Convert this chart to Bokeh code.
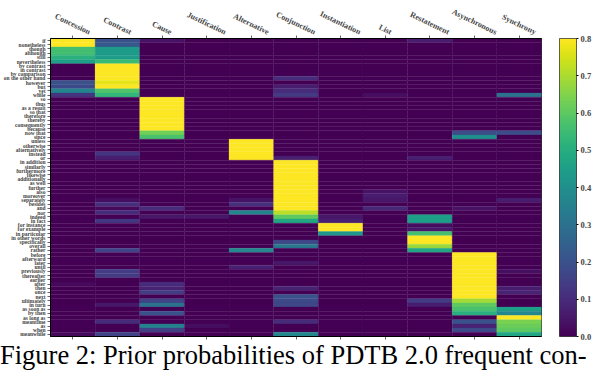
from bokeh.plotting import figure
from bokeh.models import (LinearColorMapper, ColorBar, FixedTicker, LinearAxis, Div,
                          ColumnDataSource, Range1d, PrintfTickFormatter)
from bokeh.layouts import column
from bokeh.palettes import Viridis256
from bokeh.transform import transform
from bokeh.embed import file_html
from bokeh.resources import INLINE
import math

relations = ["Concession", "Contrast", "Cause", "Justification", "Alternative", "Conjunction",
             "Instantiation", "List", "Restatement", "Asynchronous", "Synchrony"]

connectives = [
    "if", "nonetheless", "though", "although", "still", "nevertheless", "by contrast", "in contrast",
    "by comparison", "on the other hand", "however", "but", "yet", "while", "so", "thus", "as a result",
    "so that", "therefore", "thereby", "consequently", "because", "now that", "since", "unless",
    "otherwise", "alternatively", "instead", "or", "in addition", "similarly", "furthermore", "likewise",
    "additionally", "as well", "further", "also", "moreover", "separately", "besides", "and", "nor",
    "indeed", "in fact", "for instance", "for example", "in particular", "in other words", "specifically",
    "overall", "rather", "before", "afterward", "later", "until", "previously", "thereafter", "earlier",
    "after", "then", "once", "next", "ultimately", "in turn", "as soon as", "by then", "as long as",
    "meantime", "as", "when", "meanwhile",
]

concession = [
    0.85, 0.85, 0.56, 0.56, 0.51, 0.45, 0, 0, 0, 0,
    0.20, 0.18, 0.36, 0.12, 0, 0, 0, 0, 0, 0,
    0, 0, 0, 0, 0, 0, 0, 0, 0, 0,
    0, 0, 0, 0, 0, 0, 0, 0, 0, 0,
    0, 0, 0, 0, 0, 0, 0, 0, 0, 0,
    0, 0, 0, 0, 0, 0, 0, 0, 0.02, 0,
    0, 0, 0, 0, 0, 0, 0, 0, 0, 0,
    0.02,
]
contrast = [
    0.20, 0.22, 0.44, 0.44, 0.44, 0.54, 0.85, 0.85, 0.85, 0.85,
    0.77, 0.80, 0.58, 0.53, 0, 0, 0, 0, 0, 0,
    0, 0, 0, 0, 0, 0, 0, 0.12, 0.06, 0,
    0, 0, 0, 0, 0, 0, 0, 0, 0.03, 0.11,
    0.02, 0.10, 0, 0.13, 0, 0, 0, 0, 0, 0,
    0.16, 0, 0, 0, 0, 0.14, 0.14, 0, 0, 0,
    0, 0, 0, 0.05, 0, 0, 0, 0.10, 0, 0,
    0.16,
]
cause = [
    0.04, 0, 0, 0, 0, 0, 0, 0, 0, 0,
    0, 0, 0, 0, 0.85, 0.85, 0.85, 0.85, 0.85, 0.85,
    0.85, 0.85, 0.63, 0.57, 0, 0, 0, 0, 0, 0,
    0, 0, 0, 0, 0, 0, 0, 0, 0, 0,
    0.10, 0, 0.05, 0, 0, 0, 0, 0, 0, 0,
    0, 0, 0, 0, 0, 0, 0, 0, 0.10, 0.08,
    0.14, 0, 0.16, 0.30, 0, 0.20, 0, 0, 0.35, 0.15,
    0,
]
justification = [
    0, 0, 0, 0, 0, 0, 0, 0, 0, 0,
    0, 0, 0, 0, 0, 0, 0, 0, 0, 0,
    0, 0, 0, 0, 0, 0, 0, 0, 0, 0,
    0, 0, 0, 0, 0, 0, 0, 0, 0, 0,
    0, 0, 0.05, 0, 0, 0, 0, 0, 0, 0,
    0, 0, 0, 0, 0, 0, 0, 0, 0, 0,
    0, 0, 0, 0, 0, 0, 0, 0, 0.03, 0,
    0,
]
alternative = [
    0, 0, 0, 0, 0, 0, 0, 0, 0, 0,
    0, 0, 0, 0, 0, 0, 0, 0, 0, 0,
    0, 0, 0, 0, 0.85, 0.85, 0.85, 0.85, 0.85, 0,
    0, 0, 0, 0, 0, 0, 0, 0, 0.04, 0.11,
    0, 0.36, 0, 0, 0, 0, 0, 0, 0, 0,
    0.37, 0, 0, 0, 0.07, 0, 0, 0, 0, 0,
    0, 0, 0, 0, 0, 0, 0, 0, 0, 0,
    0,
]
conjunction = [
    0, 0, 0, 0, 0, 0, 0, 0, 0, 0.10,
    0, 0.06, 0.10, 0.14, 0, 0, 0, 0, 0, 0,
    0, 0, 0, 0, 0, 0, 0, 0, 0.07, 0.85,
    0.85, 0.85, 0.85, 0.85, 0.85, 0.85, 0.85, 0.85, 0.85, 0.85,
    0.85, 0.72, 0.60, 0.48, 0, 0, 0, 0, 0.17, 0.32,
    0, 0, 0, 0.05, 0, 0, 0, 0, 0, 0.08,
    0, 0.20, 0.18, 0.17, 0, 0, 0, 0.10, 0, 0,
    0.37,
]
instantiation = [
    0, 0, 0, 0, 0, 0, 0, 0, 0, 0,
    0, 0, 0, 0, 0, 0, 0, 0, 0, 0,
    0, 0, 0, 0, 0, 0, 0, 0, 0, 0,
    0, 0, 0, 0, 0, 0, 0, 0, 0, 0,
    0, 0, 0.05, 0.07, 0.85, 0.85, 0.42, 0, 0, 0,
    0, 0, 0, 0, 0, 0, 0, 0, 0, 0,
    0, 0, 0, 0, 0, 0, 0, 0, 0, 0,
    0,
]
list_rel = [
    0, 0, 0, 0, 0, 0, 0, 0, 0, 0,
    0, 0, 0, 0.03, 0, 0, 0, 0, 0, 0,
    0, 0, 0, 0, 0, 0, 0, 0, 0, 0,
    0, 0, 0, 0, 0, 0, 0.04, 0.06, 0.05, 0,
    0.09, 0, 0, 0, 0, 0, 0, 0, 0, 0,
    0, 0, 0, 0, 0, 0, 0, 0, 0, 0,
    0, 0, 0, 0, 0, 0, 0, 0, 0, 0,
    0,
]
restatement = [
    0.06, 0, 0, 0, 0, 0, 0, 0, 0, 0,
    0, 0, 0, 0, 0, 0, 0, 0, 0, 0,
    0, 0, 0, 0, 0, 0, 0, 0, 0.07, 0,
    0, 0, 0, 0, 0, 0, 0, 0, 0, 0,
    0, 0, 0.45, 0.45, 0.03, 0.05, 0.56, 0.85, 0.85, 0.68,
    0.48, 0, 0, 0, 0, 0, 0, 0, 0, 0,
    0, 0, 0.14, 0.06, 0, 0, 0, 0, 0, 0,
    0,
]
asynchronous = [
    0, 0, 0, 0, 0, 0, 0, 0, 0, 0,
    0, 0, 0, 0, 0, 0, 0, 0, 0, 0,
    0, 0, 0.19, 0.40, 0, 0, 0, 0, 0, 0,
    0, 0, 0, 0, 0, 0, 0, 0, 0, 0,
    0.04, 0, 0, 0, 0, 0, 0, 0, 0, 0,
    0, 0.85, 0.85, 0.85, 0.85, 0.85, 0.85, 0.85, 0.85, 0.85,
    0.85, 0.85, 0.69, 0.60, 0.57, 0.50, 0, 0.20, 0.08, 0.18,
    0,
]
synchrony = [
    0, 0, 0, 0, 0, 0, 0, 0, 0, 0,
    0, 0, 0, 0.30, 0, 0, 0, 0, 0, 0,
    0, 0, 0.19, 0, 0, 0, 0, 0, 0, 0,
    0, 0, 0, 0, 0, 0, 0, 0, 0.06, 0,
    0, 0, 0, 0, 0, 0, 0, 0, 0, 0,
    0, 0, 0, 0, 0, 0.03, 0, 0, 0, 0.06,
    0.08, 0, 0, 0, 0.45, 0.37, 0.85, 0.64, 0.62, 0.60,
    0.47,
]

columns = [concession, contrast, cause, justification, alternative, conjunction,
           instantiation, list_rel, restatement, asynchronous, synchrony]

colorbar_ticks = [0.0, 0.1, 0.2, 0.3, 0.4, 0.5, 0.6, 0.7, 0.8]
caption = "Figure 2: Prior probabilities of PDTB 2.0 frequent con-"

n_rows = len(connectives)
n_cols = len(relations)

SERIF = "Liberation Serif"
W, H = 594, 342
FRAME_W = 495
COL_FS = 8.0
ANGLE = 0.45

xs, ys, vals = [], [], []
for ci, colvals in enumerate(columns):
    for ri, v in enumerate(colvals):
        xs.append(ci + 0.5)
        ys.append(ri + 0.5)
        vals.append(v)
src = ColumnDataSource(dict(x=xs, y=ys, v=vals))

mapper = LinearColorMapper(palette=Viridis256, low=0.0, high=0.8)

p = figure(width=W, height=H, x_range=Range1d(0, n_cols), y_range=Range1d(n_rows, 0),
           output_backend="svg", toolbar_location=None,
           x_axis_location=None, y_axis_location=None,
           min_border_left=40, min_border_right=0, min_border_top=10, min_border_bottom=6)
p.grid.visible = False
p.outline_line_color = "black"
p.outline_line_width = 0.8
p.background_fill_color = "white"
p.margin = (0, 0, 0, 0)

p.rect(x="x", y="y", width=1, height=1, source=src,
       fill_color=transform("v", mapper), line_color=transform("v", mapper), line_width=0.3)

col_centers = [i + 0.5 for i in range(n_cols)]
row_centers = [i + 0.5 for i in range(n_rows)]

left = LinearAxis(ticker=FixedTicker(ticks=row_centers),
                  major_label_overrides={c: name for c, name in zip(row_centers, connectives)},
                  major_label_text_font=SERIF, major_label_text_font_style="bold",
                  major_label_text_font_size="5.5px", major_label_standoff=2,
                  major_tick_out=3, major_tick_in=0, minor_tick_out=0, minor_tick_in=0,
                  axis_line_color="black", major_tick_line_width=0.6)
p.add_layout(left, "left")

# tick marks only, above and below the heatmap
for side in ("above", "below"):
    ax = LinearAxis(ticker=FixedTicker(ticks=col_centers),
                    major_label_overrides={c: "" for c in col_centers},
                    major_label_text_font_size="0px", major_label_standoff=0,
                    major_tick_out=3, major_tick_in=0, minor_tick_out=0, minor_tick_in=0,
                    axis_line_color="black", major_tick_line_width=0.6)
    p.add_layout(ax, side)

# rotated column names, centred over each column (Times-Bold advance widths, per 1000 em)
TB = {"C": 722, "o": 500, "n": 556, "c": 444, "e": 444, "s": 389, "i": 278, "t": 333, "r": 444,
      "a": 500, "u": 556, "J": 500, "f": 333, "l": 278, "A": 722, "j": 333, "I": 389, "L": 667,
      "R": 722, "m": 833, "y": 500, "h": 556, "S": 556, "v": 500}
col_w_px = FRAME_W / n_cols
label_ticks = []
for i, name in enumerate(relations):
    length_px = sum(TB.get(ch, 500) for ch in name) / 1000.0 * COL_FS
    shift = length_px * math.cos(ANGLE) / 2.0 / col_w_px
    label_ticks.append(col_centers[i] + shift)
top_labels = LinearAxis(ticker=FixedTicker(ticks=label_ticks),
                        major_label_overrides={t: name for t, name in zip(label_ticks, relations)},
                        major_label_orientation=-ANGLE,
                        major_label_text_font=SERIF, major_label_text_font_style="bold",
                        major_label_text_font_size=f"{COL_FS}px", major_label_standoff=3,
                        major_tick_out=0, major_tick_in=0, minor_tick_out=0, minor_tick_in=0,
                        axis_line_color=None, major_tick_line_color=None, minor_tick_line_color=None)
p.add_layout(top_labels, "above")

cb = ColorBar(color_mapper=mapper, width=17, height="auto", location=(18, 0),
              padding=0, margin=0,
              ticker=FixedTicker(ticks=colorbar_ticks),
              formatter=PrintfTickFormatter(format="%.1f"),
              major_label_text_font=SERIF, major_label_text_font_style="bold",
              major_label_text_font_size="8.5px",
              major_tick_in=0, major_tick_out=2, major_tick_line_color="black",
              label_standoff=2, bar_line_color="black", bar_line_width=0.6)
p.add_layout(cb, "right")

cap = Div(text=caption, width=W, height=22, margin=(0, 0, 0, 0),
          styles={"font-family": "'Liberation Serif', 'Times New Roman', serif",
                  "font-size": "26.5px", "line-height": "22px", "white-space": "nowrap",
                  "position": "relative", "top": "2px", "color": "black"})

layout = column(p, cap, spacing=0)
open("out.html", "w").write(file_html(layout, INLINE))
